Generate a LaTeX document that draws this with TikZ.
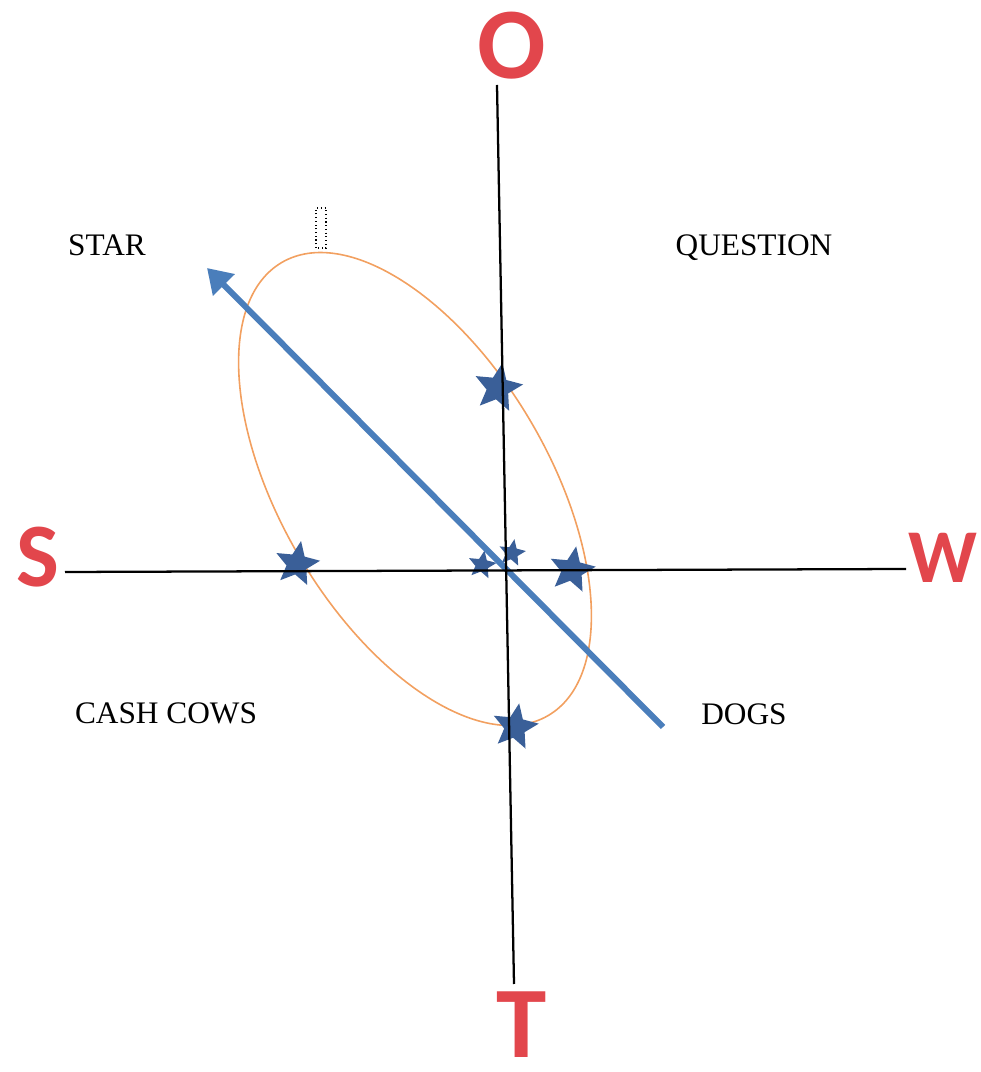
\documentclass[tikz,border=0pt]{standalone}
\usepackage{fontspec}
\setmainfont{Liberation Serif}
\newfontfamily\swotletfont{Carlito}
\usetikzlibrary{shapes.geometric,arrows.meta}
\definecolor{swotred}{RGB}{226,70,76}
\definecolor{swotblue}{RGB}{74,126,187}
\definecolor{swotstarblue}{RGB}{58,95,152}
\definecolor{swotorange}{RGB}{242,160,96}
\tikzset{
  swotlet/.style={text=swotred, inner sep=0pt, anchor=base, font=\swotletfont\bfseries},
  swotlab/.style={font=\fontsize{23.5}{28}\selectfont, inner sep=0pt},
  swotaxis/.style={draw=black, line width=1.7pt},
  swotstar/.style={star, star points=5, star point ratio=2.2, fill=swotstarblue,
                   inner sep=0pt, shape border rotate=-10},
  swotdir/.style={draw=swotblue, line width=4.5pt, -{Triangle[length=18pt,width=22pt]}},
}

\begin{document}
\begin{tikzpicture}[x=0.75pt,y=0.75pt]
  \useasboundingbox (0,0) rectangle (981,1072);

  % portfolio ellipse
  \draw[swotorange, line width=1.2pt, rotate around={120.5:(415,583)}]
    (415,583) ellipse (262.8 and 134);

  % stars
  \node[swotstar, minimum size=38pt] (st1) at (498,684) {};
  \node[swotstar, minimum size=35pt] (st2) at (297,508) {};
  \node[swotstar, minimum size=22pt] (st3) at (482,507) {};
  \node[swotstar, minimum size=21pt] (st4) at (512,519) {};
  \node[swotstar, minimum size=36pt] (st5) at (572,502) {};
  \node[swotstar, minimum size=36pt] (st6) at (515,345) {};

  % axis letters
  \node[swotlet, font=\swotletfont\bfseries\fontsize{76}{76}\selectfont] (O) at (512,993) {O};
  \node[swotlet, font=\swotletfont\bfseries\fontsize{76}{76}\selectfont] (T) at (522,14) {T};
  \node[swotlet, font=\swotletfont\bfseries\fontsize{68}{68}\selectfont] (S) at (38,485) {S};
  \node[swotlet, font=\swotletfont\bfseries\fontsize{57}{57}\selectfont] (W) at (943,489) {W};

  % quadrant labels
  \node[swotlab] (star) at (107,827) {STAR};
  \node[swotlab] (quest) at (754,824) {QUESTION};
  \node[swotlab] (cows) at (166,359) {CASH COWS};
  \node[swotlab] (dogs) at (744,358) {DOGS};

  % axes and direction
  \coordinate (axO) at (497,987);
  \coordinate (axT) at (514,88);
  \coordinate (axS) at (65,500);
  \coordinate (axW) at (906,503);
  \coordinate (dirA) at (663,345);
  \coordinate (dirB) at (207,804);
  \draw[swotdir] (dirA) -- (dirB);
  \draw[swotaxis] (axO) -- (axT);
  \draw[swotaxis] (axS) -- (axW);

  \draw[dotted, line width=0.8pt] (316,824) rectangle (326,864);
\end{tikzpicture}
\end{document}
